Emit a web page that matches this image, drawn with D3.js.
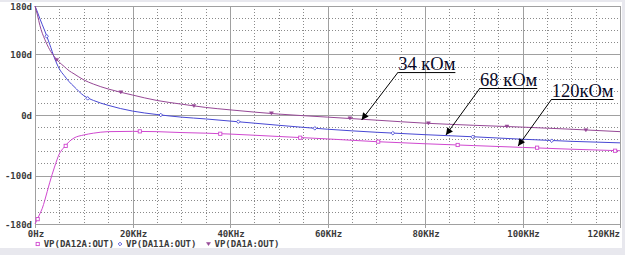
<!DOCTYPE html>
<html>
<head>
<meta charset="utf-8">
<script src="https://cdn.jsdelivr.net/npm/d3@7"></script>
<style>
  body { margin: 0; background: #e8e8ee; }
  svg { display: block; }
  .tick-label { font-family: "DejaVu Sans Mono", monospace; font-weight: bold; font-size: 9px; fill: #3a3a3a; }
  .note { font-family: "Liberation Serif", "Times New Roman", serif; font-size: 18.5px; fill: #0a0a28; }
</style>
</head>
<body>
<div id="chart"></div>
<script>
// Frequency points (KHz)
let freqs = [0, 0.5, 1, 1.5, 2, 3, 4, 5, 6, 7, 8, 10, 12, 15, 20, 25, 30, 35, 40, 50, 60, 70, 80, 90, 100, 110, 120];

// Phase, degrees
let da12a = [-180, -172, -163, -154, -141, -112, -86, -64, -53, -44, -38, -33, -30, -27.5, -27, -27.5, -29, -30, -31.5, -35.5, -39.5, -44, -47.5, -50.5, -53.5, -56.5, -59];
let da11a = [180, 170, 159, 149, 139, 117, 94, 76, 65, 55, 47, 32, 24, 16, 6.5, 0.8, -3.5, -6.5, -10, -17, -23.5, -28.5, -32.5, -36, -40, -43.5, -46];
let da1a = [180, 165, 148, 135, 125, 108, 96, 87, 80, 73, 68, 58, 51, 43, 33, 24, 18, 12.5, 8.5, 1.5, -3.5, -8.5, -13.5, -17, -20, -23.5, -27.5];

// Marker points [KHz, deg]
let da12aMarks = [[0.55, -172], [6.3, -51], [21.5, -27], [38, -31], [54.4, -37.5], [70.4, -44], [86.7, -49.5], [103, -54], [119, -59]];
let da11aMarks = [[2.4, 130], [10.8, 27.5], [25.8, 0], [41.7, -11], [57.4, -22], [73.4, -30], [89.8, -36], [106, -42.5]];
let da1aMarks = [[4.45, 91], [17.6, 37.5], [32.6, 15], [48.5, 2.8], [64.6, -5.5], [80.7, -13.7], [96.8, -19], [113, -25]];

let legendNames = ["VP(DA12A:OUT)", "VP(DA11A:OUT)", "VP(DA1A:OUT)"];

// Axis ticks
let xTicks = [0, 20, 40, 60, 80, 100, 120];
let xTickLabels = ["0Hz", "20KHz", "40KHz", "60KHz", "80KHz", "100KHz", "120KHz"];
let yTicks = [180, 100, 0, -100, -180];
let yTickLabels = ["180d", "100d", "0d", "-100d", "-180d"];

// Notes: label, arrow tip [KHz, deg], label start [KHz, deg]
let notes = [
  { text: "34 кОм", tip: [67, -8.3], from: [74.5, 70.9] },
  { text: "68 кОм", tip: [84.3, -33], from: [91.3, 44.6] },
  { text: "120кОм", tip: [99.1, -51.2], from: [106, 26.4] }
];

let colors = ["#d048d0", "#4848d4", "#964896"];

// Plot box
let dim = { top: 6, left: 35, right: 620, bottom: 224 };

let svg = d3.select("#chart")
  .append("svg")
  .attr("width", 625)
  .attr("height", 255);

// White panel
svg.append("rect")
  .attr("x", 0).attr("y", 2)
  .attr("width", 622).attr("height", 246)
  .attr("fill", "#ffffff");

let x = d3.scaleLinear().domain([0, 120]).range([dim.left, dim.right]);
let y = d3.scaleLinear().domain([-180, 180]).range([dim.bottom, dim.top]);

// Dotted grid
let grid = svg.append("g");
d3.range(5, 120, 5).filter(v => v % 20 != 0).forEach(v => {
  grid.append("line")
    .attr("x1", Math.round(x(v)) + 0.5).attr("x2", Math.round(x(v)) + 0.5)
    .attr("y1", dim.top).attr("y2", dim.bottom)
    .attr("stroke", "#8a8a8a").attr("stroke-dasharray", "1,2");
});
d3.range(-160, 180, 20).filter(v => v % 100 != 0).forEach(v => {
  grid.append("line")
    .attr("y1", Math.round(y(v)) + 0.5).attr("y2", Math.round(y(v)) + 0.5)
    .attr("x1", dim.left).attr("x2", dim.right)
    .attr("stroke", "#8a8a8a").attr("stroke-dasharray", "1,2");
});

// Solid grid
[20, 40, 60, 80, 100].forEach(v => {
  grid.append("line")
    .attr("x1", Math.round(x(v)) + 0.5).attr("x2", Math.round(x(v)) + 0.5)
    .attr("y1", dim.top).attr("y2", dim.bottom)
    .attr("stroke", "#a0a0a0");
});
[100, 0, -100].forEach(v => {
  grid.append("line")
    .attr("y1", Math.round(y(v)) + 0.5).attr("y2", Math.round(y(v)) + 0.5)
    .attr("x1", dim.left).attr("x2", dim.right)
    .attr("stroke", "#a0a0a0");
});

// Border
svg.append("rect")
  .attr("x", dim.left + 0.5).attr("y", dim.top + 0.5)
  .attr("width", dim.right - dim.left).attr("height", dim.bottom - dim.top)
  .attr("fill", "none").attr("stroke", "#a0a0a0");

// Tick marks
xTicks.forEach(v => {
  svg.append("line")
    .attr("x1", Math.round(x(v)) + 0.5).attr("x2", Math.round(x(v)) + 0.5)
    .attr("y1", dim.bottom).attr("y2", dim.bottom + 4)
    .attr("stroke", "#a0a0a0");
});

// X labels
xTicks.forEach((v, i) => {
  svg.append("text")
    .attr("class", "tick-label")
    .attr("x", i == xTicks.length - 1 ? x(v) : x(v) + 1)
    .attr("y", 237)
    .attr("text-anchor", i == xTicks.length - 1 ? "end" : "middle")
    .text(xTickLabels[i]);
});

// Y labels
yTicks.forEach((v, i) => {
  svg.append("text")
    .attr("class", "tick-label")
    .attr("x", 32)
    .attr("y", y(v) + 3.5)
    .attr("text-anchor", "end")
    .text(yTickLabels[i]);
});

// Curves
let line = d3.line()
  .x((d, i) => x(freqs[i]))
  .y(d => y(d))
  .curve(d3.curveMonotoneX);

[da12a, da11a, da1a].forEach((s, k) => {
  svg.append("path")
    .attr("d", line(s))
    .attr("fill", "none")
    .attr("stroke", colors[k])
    .attr("stroke-width", 1);
});

// Marker shapes (small, like PSpice)
function drawMark(g, k, cx, cy) {
  if (k == 0) {
    g.append("rect")
      .attr("x", cx - 1.6).attr("y", cy - 1.6)
      .attr("width", 3.2).attr("height", 3.2)
      .attr("fill", "#ffffff").attr("stroke", colors[0]).attr("stroke-width", 0.9);
  } else if (k == 1) {
    g.append("path")
      .attr("d", `M${cx},${cy - 1.8}L${cx + 1.8},${cy}L${cx},${cy + 1.8}L${cx - 1.8},${cy}Z`)
      .attr("fill", "#ffffff").attr("stroke", colors[1]).attr("stroke-width", 0.9);
  } else {
    g.append("path")
      .attr("d", `M${cx - 2},${cy - 1.5}L${cx + 2},${cy - 1.5}L${cx},${cy + 1.6}Z`)
      .attr("fill", colors[2]).attr("stroke", colors[2]).attr("stroke-width", 0.5);
  }
}

let marks = svg.append("g");
[da12aMarks, da11aMarks, da1aMarks].forEach((m, k) => {
  m.forEach(d => drawMark(marks, k, x(d[0]), y(d[1])));
});

// Legend
let legendX = [37.7, 120, 208.5];
legendNames.forEach((name, k) => {
  drawMark(svg, k, legendX[k], 244);
  svg.append("text")
    .attr("class", "tick-label")
    .attr("x", legendX[k] + 6)
    .attr("y", 247)
    .text(name);
});

// Arrow head
svg.append("defs").append("marker")
  .attr("id", "head")
  .attr("viewBox", "0 0 10 10")
  .attr("refX", 10).attr("refY", 5)
  .attr("markerWidth", 9).attr("markerHeight", 7)
  .attr("markerUnits", "userSpaceOnUse")
  .attr("orient", "auto")
  .append("path")
  .attr("d", "M0,0L10,5L0,10Z")
  .attr("fill", "#000000");

// Notes with underline and arrow
notes.forEach(n => {
  let sx = x(n.from[0]), sy = y(n.from[1]);
  let t = svg.append("text")
    .attr("class", "note")
    .attr("x", sx)
    .attr("y", sy - 2)
    .text(n.text);
  let w = t.node().getComputedTextLength();
  svg.append("line")
    .attr("x1", sx).attr("x2", sx + w)
    .attr("y1", sy + 0.5).attr("y2", sy + 0.5)
    .attr("stroke", "#000000").attr("stroke-width", 1);
  svg.append("line")
    .attr("x1", sx).attr("y1", sy)
    .attr("x2", x(n.tip[0])).attr("y2", y(n.tip[1]))
    .attr("stroke", "#000000").attr("stroke-width", 1)
    .attr("marker-end", "url(#head)");
});
</script>
</body>
</html>
